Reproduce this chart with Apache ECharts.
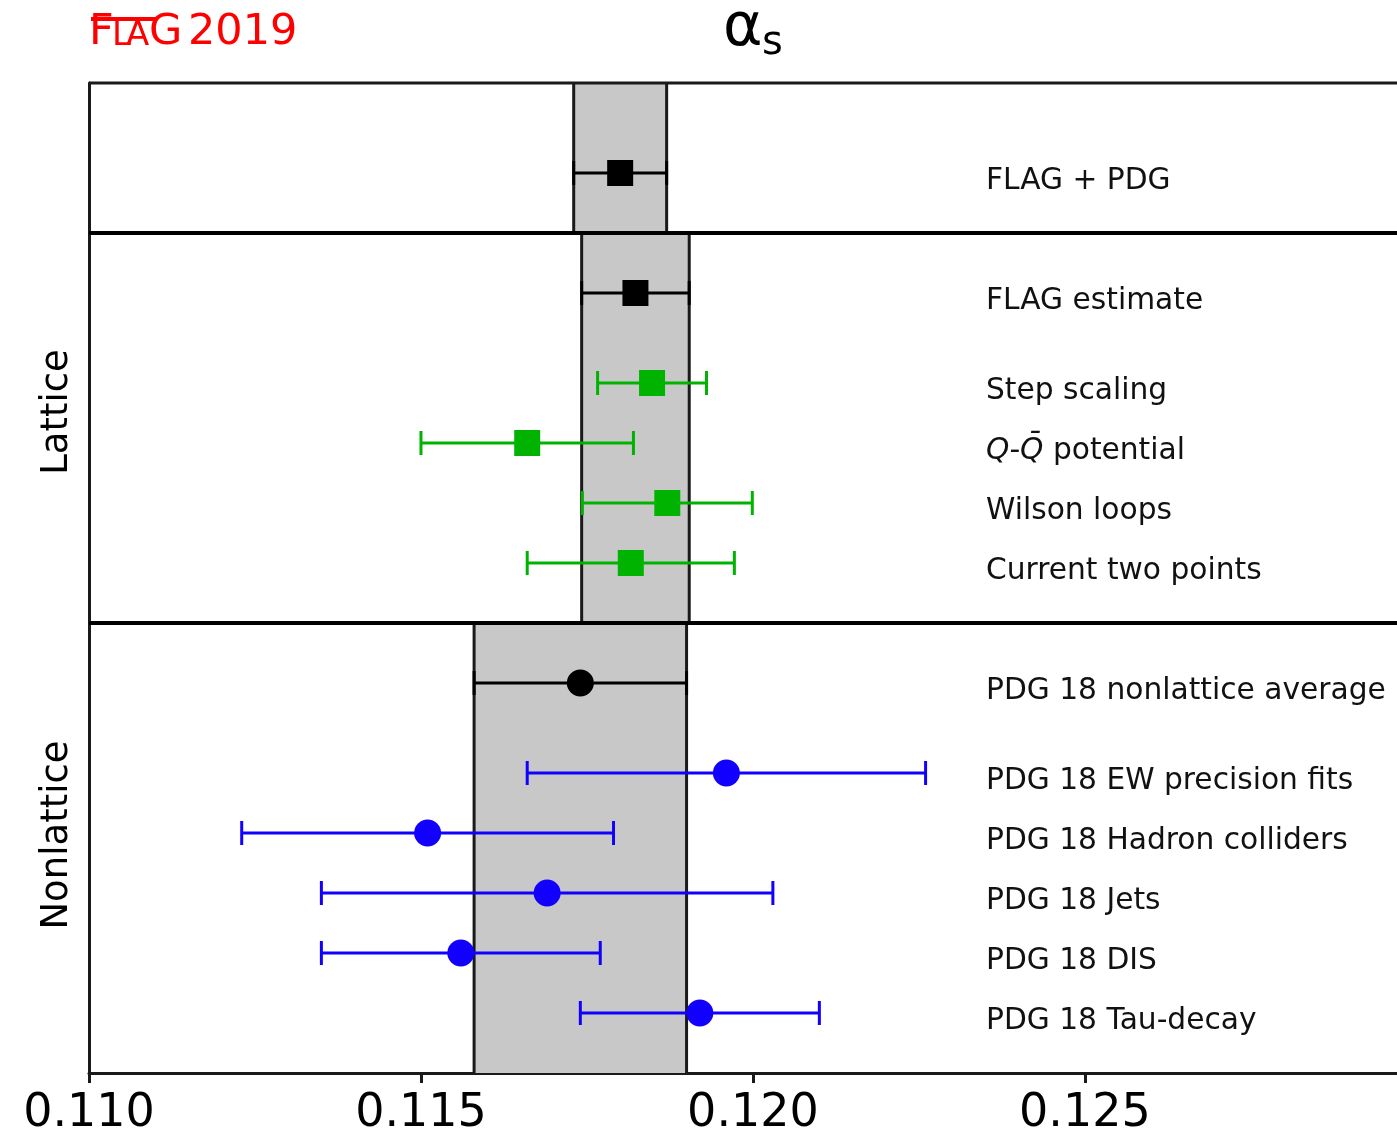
<!DOCTYPE html>
<html>
<head>
<meta charset="utf-8">
<script src="https://cdn.jsdelivr.net/npm/echarts@6/dist/echarts.min.js"></script>
<style>
  html, body { margin: 0; padding: 0; background: #fff; }
  #alphas { width: 1397px; height: 1135px; }
</style>
</head>
<body>
<div id="alphas"></div>
<script>
// rows, top to bottom (y position in row units, 0 = top of frame)
const rowLabels = [
  'FLAG + PDG',
  'FLAG estimate',
  'Step scaling',
  '{i|Q}-{i|Q\u0304} potential',
  'Wilson loops',
  'Current two points',
  'PDG 18 nonlattice average',
  'PDG 18 EW precision fits',
  'PDG 18 Hadron colliders',
  'PDG 18 Jets',
  'PDG 18 DIS',
  'PDG 18 Tau-decay'
];
const rowPos = [3, 7, 10, 12, 14, 16, 20, 23, 25, 27, 29, 31];
const centralValues = [0.1180, 0.11823, 0.11848, 0.1166, 0.11871, 0.11816,
                       0.1174, 0.1196, 0.1151, 0.1169, 0.1156, 0.1192];
const errors = [0.0007, 0.00081, 0.00082, 0.0016, 0.00128, 0.00156,
                0.0016, 0.0030, 0.0028, 0.0034, 0.0021, 0.0018];
const rowKind = ['avg', 'avg', 'lat', 'lat', 'lat', 'lat',
                 'pdg', 'non', 'non', 'non', 'non', 'non'];

// grey bands, one per panel
const panelEdges = [[0, 5], [5, 18], [18, 33]];
const bandCenters = [0.1180, 0.11823, 0.1174];
const bandErrors = [0.0007, 0.00081, 0.0016];
const frameLines = [0, 5, 18];

const xTicks = { min: 0.110, max: 0.1297, interval: 0.005 };
const labelX = 0.12351;

const colors = { avg: '#000000', pdg: '#000000', lat: '#00b300', non: '#1200ff' };
const FONT = 'DejaVu Sans';

const chart = echarts.init(document.getElementById('alphas'));

const bandData = panelEdges.map((p, i) => [bandCenters[i] - bandErrors[i], bandCenters[i] + bandErrors[i], p[0], p[1]]);
const errData = rowPos.map((y, i) => [centralValues[i], errors[i], y, i]);
const markerData = rowPos.map((y, i) => ({
  value: [centralValues[i], y],
  symbol: rowKind[i] === 'avg' || rowKind[i] === 'lat' ? 'rect' : 'circle',
  symbolSize: rowKind[i] === 'avg' || rowKind[i] === 'lat' ? 26 : 27,
  itemStyle: { color: colors[rowKind[i]], opacity: 1 }
}));
const labelData = rowPos.map((y, i) => [labelX, y, i]);

const red = '#ff0000';
chart.setOption({
  animation: false,
  backgroundColor: '#fff',
  grid: { left: 89, top: 83, right: 0, bottom: 62, outerBoundsMode: 'none', containLabel: false },
  xAxis: {
    type: 'value',
    min: xTicks.min,
    max: xTicks.max,
    interval: xTicks.interval,
    splitLine: { show: false },
    axisLine: { show: true, onZero: false, lineStyle: { color: '#1a1a1a', width: 3 } },
    axisTick: { show: true, length: 10, lineStyle: { color: '#1a1a1a', width: 3 } },
    axisLabel: {
      margin: 18,
      color: '#000',
      fontSize: 46,
      fontFamily: FONT,
      formatter: v => v.toFixed(3),
      showMaxLabel: false
    }
  },
  yAxis: {
    type: 'value',
    min: 0,
    max: 33,
    inverse: true,
    splitLine: { show: false },
    axisLabel: { show: false },
    axisTick: { show: false },
    axisLine: { show: true, lineStyle: { color: '#1a1a1a', width: 3 } }
  },
  graphic: [
    { type: 'text', x: 723, y: 29, style: { text: '\u03b1', fontSize: 60, fontFamily: FONT, fill: '#000', verticalAlign: 'middle' } },
    { type: 'text', x: 762, y: 44, style: { text: 's', fontSize: 40, fontFamily: FONT, fill: '#000', verticalAlign: 'middle' } },
    { type: 'text', x: 89, y: 33, style: { text: 'F', fontSize: 43, fontFamily: FONT, fill: red, verticalAlign: 'middle' } },
    { type: 'text', x: 112, y: 36, style: { text: 'L', fontSize: 34, fontFamily: FONT, fill: red, verticalAlign: 'middle' } },
    { type: 'text', x: 126, y: 36, style: { text: 'A', fontSize: 34, fontFamily: FONT, fill: red, verticalAlign: 'middle' } },
    { type: 'text', x: 149, y: 33, style: { text: 'G', fontSize: 43, fontFamily: FONT, fill: red, verticalAlign: 'middle' } },
    { type: 'rect', shape: { x: 91, y: 17, width: 65, height: 4 }, style: { fill: red } },
    { type: 'text', x: 188, y: 33, style: { text: '2019', fontSize: 43, fontFamily: FONT, fill: red, verticalAlign: 'middle' } },
    { type: 'text', x: 57, y: 412, rotation: Math.PI / 2, style: { text: 'Lattice', fontSize: 37, fontFamily: FONT, fill: '#000', align: 'center', verticalAlign: 'middle' } },
    { type: 'text', x: 57, y: 835, rotation: Math.PI / 2, style: { text: 'Nonlattice', fontSize: 37, fontFamily: FONT, fill: '#000', align: 'center', verticalAlign: 'middle' } }
  ],
  series: [
    {
      type: 'custom',
      z: 1,
      data: bandData,
      renderItem: (params, api) => {
        const a = api.coord([api.value(0), api.value(2)]);
        const b = api.coord([api.value(1), api.value(3)]);
        return {
          type: 'group',
          children: [
            { type: 'rect', shape: { x: a[0], y: a[1], width: b[0] - a[0], height: b[1] - a[1] }, style: { fill: '#c8c8c8' } },
            { type: 'line', shape: { x1: a[0], y1: a[1], x2: a[0], y2: b[1] }, style: { stroke: '#1a1a1a', lineWidth: 3 } },
            { type: 'line', shape: { x1: b[0], y1: a[1], x2: b[0], y2: b[1] }, style: { stroke: '#1a1a1a', lineWidth: 3 } }
          ]
        };
      }
    },
    {
      type: 'custom',
      z: 2,
      data: frameLines.map(y => [y]),
      renderItem: (params, api) => {
        const y = api.value(0);
        const p1 = api.coord([xTicks.min, y]);
        const p2 = api.coord([xTicks.max, y]);
        return { type: 'line', shape: { x1: p1[0], y1: p1[1], x2: p2[0], y2: p2[1] },
          style: { stroke: y === 0 ? '#1a1a1a' : '#000', lineWidth: y === 0 ? 3 : 4 } };
      }
    },
    {
      type: 'custom',
      z: 3,
      data: errData,
      renderItem: (params, api) => {
        const c = api.value(0), e = api.value(1), y = api.value(2);
        const col = colors[rowKind[api.value(3)]];
        const l = api.coord([c - e, y]);
        const r = api.coord([c + e, y]);
        const st = { stroke: col, lineWidth: 3 };
        return {
          type: 'group',
          children: [
            { type: 'line', shape: { x1: l[0], y1: l[1], x2: r[0], y2: r[1] }, style: st },
            { type: 'line', shape: { x1: l[0], y1: l[1] - 12, x2: l[0], y2: l[1] + 12 }, style: st },
            { type: 'line', shape: { x1: r[0], y1: r[1] - 12, x2: r[0], y2: r[1] + 12 }, style: st }
          ]
        };
      }
    },
    {
      type: 'scatter',
      z: 4,
      data: markerData
    },
    {
      type: 'custom',
      z: 5,
      data: labelData,
      renderItem: (params, api) => {
        const p = api.coord([api.value(0), api.value(1)]);
        return {
          type: 'text',
          x: p[0],
          y: p[1] + 8,
          style: {
            text: rowLabels[api.value(2)],
            fontSize: 29.7,
            fontFamily: FONT,
            fill: '#111',
            verticalAlign: 'middle',
            rich: { i: { fontSize: 29.7, fontFamily: FONT, fontStyle: 'italic', fill: '#111' } }
          }
        };
      }
    }
  ]
});
</script>
</body>
</html>
